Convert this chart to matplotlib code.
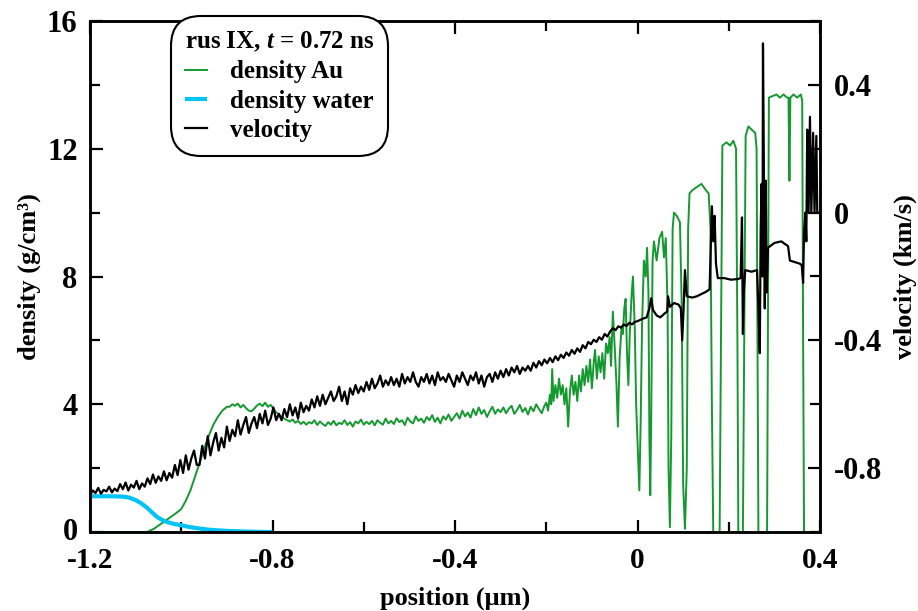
import numpy as np
import matplotlib
matplotlib.use("Agg")
import matplotlib.pyplot as plt
from matplotlib.ticker import MultipleLocator, FuncFormatter
import matplotlib.transforms as mtransforms

plt.rcParams['font.family'] = ['Liberation Serif', 'DejaVu Serif']
plt.rcParams['font.weight'] = 'bold'
plt.rcParams['axes.unicode_minus'] = False
plt.rcParams['mathtext.fontset'] = 'custom'
plt.rcParams['mathtext.it'] = 'Liberation Serif:italic:bold'
plt.rcParams['mathtext.rm'] = 'Liberation Serif:bold'

# ---------------- data ----------------
# velocity (km/s), uniform samples from x=-1.2 with step 0.006 (200 values)
vel_left_start = -1.2
vel_left_step = 0.006
velocity_left = [
    -0.885, -0.870, -0.878, -0.862, -0.880, -0.868, -0.873, -0.858, -0.876, -0.864,
    -0.872, -0.850, -0.866, -0.845, -0.870, -0.852, -0.861, -0.840, -0.866, -0.848,
    -0.858, -0.832, -0.850, -0.820, -0.846, -0.826, -0.840, -0.810, -0.838, -0.815,
    -0.830, -0.790, -0.822, -0.775, -0.815, -0.760, -0.805, -0.770, -0.745, -0.790,
    -0.790, -0.730, -0.770, -0.700, -0.760, -0.720, -0.690, -0.745, -0.705, -0.735,
    -0.670, -0.715, -0.680, -0.700, -0.650, -0.695, -0.665, -0.640, -0.690, -0.660,
    -0.640, -0.675, -0.630, -0.660, -0.620, -0.665, -0.645, -0.610, -0.650, -0.630,
    -0.650, -0.615, -0.640, -0.600, -0.635, -0.610, -0.645, -0.595, -0.625, -0.605,
    -0.620, -0.585, -0.610, -0.575, -0.605, -0.570, -0.600, -0.580, -0.560, -0.590,
    -0.575, -0.545, -0.590, -0.560, -0.600, -0.550, -0.570, -0.540, -0.565, -0.545,
    -0.560, -0.530, -0.555, -0.520, -0.550, -0.535, -0.510, -0.545, -0.525, -0.540,
    -0.515, -0.540, -0.520, -0.545, -0.505, -0.535, -0.515, -0.530, -0.500, -0.530,
    -0.545, -0.515, -0.530, -0.505, -0.535, -0.510, -0.540, -0.500, -0.525, -0.515,
    -0.530, -0.505, -0.525, -0.545, -0.510, -0.530, -0.500, -0.520, -0.540, -0.510,
    -0.525, -0.500, -0.535, -0.510, -0.545, -0.515, -0.505, -0.530, -0.500, -0.520,
    -0.495, -0.515, -0.490, -0.510, -0.485, -0.500, -0.480, -0.505, -0.485, -0.495,
    -0.480, -0.495, -0.470, -0.485, -0.465, -0.478, -0.460, -0.472, -0.455, -0.468,
    -0.450, -0.462, -0.445, -0.455, -0.438, -0.448, -0.430, -0.442, -0.425, -0.436,
    -0.415, -0.425, -0.405, -0.412, -0.398, -0.405, -0.390, -0.398, -0.380, -0.388,
    -0.372, -0.362, -0.368, -0.356, -0.360, -0.350, -0.355, -0.345, -0.350, -0.342,
]
# velocity, right part (explicit positions)
vel_right_pos = [
    0.000, 0.010, 0.020, 0.026, 0.030, 0.034, 0.042, 0.050, 0.060, 0.065,
    0.067, 0.071, 0.080, 0.090, 0.095, 0.098, 0.101, 0.104, 0.108, 0.120,
    0.130, 0.140, 0.150, 0.158, 0.163, 0.166, 0.169, 0.172, 0.176, 0.190,
    0.205, 0.220, 0.226, 0.229, 0.231, 0.233, 0.236, 0.250, 0.262, 0.265,
    0.268, 0.270, 0.272, 0.274, 0.275, 0.277, 0.279, 0.281, 0.283, 0.286,
    0.300, 0.315, 0.325, 0.330, 0.334, 0.345, 0.356, 0.360, 0.363, 0.365,
    0.368, 0.370, 0.372, 0.375, 0.378, 0.381, 0.385, 0.388, 0.392, 0.394,
    0.400,
]
vel_right = [
    -0.340, -0.333, -0.328, -0.300, -0.268, -0.305, -0.322, -0.328, -0.315, -0.310,
    -0.262, -0.295, -0.283, -0.288, -0.300, -0.400, -0.300, -0.180, -0.262, -0.266,
    -0.262, -0.255, -0.248, -0.240, 0.020, -0.090, -0.010, -0.160, -0.205, -0.205,
    -0.210, -0.208, -0.205, -0.015, -0.380, -0.250, -0.180, -0.185, -0.180, -0.300,
    -0.440, -0.050, 0.090, -0.200, 0.530, 0.140, -0.300, 0.100, -0.250, -0.110,
    -0.095, -0.090, -0.100, -0.105, -0.150, -0.155, -0.160, -0.165, -0.220, -0.060,
    0.000, -0.090, 0.260, 0.000, 0.300, 0.000, 0.250, 0.000, 0.240, 0.000,
    0.000,
]

# density Au (g/cm3): ramp (explicit positions)
au_ramp_pos = [-1.200, -1.075, -1.060, -1.045, -1.030, -1.015, -1.000, -0.990,
               -0.980, -0.970, -0.960, -0.950, -0.940, -0.930, -0.920, -0.910, -0.900]
au_ramp = [0.00, 0.00, 0.10, 0.25, 0.40, 0.55, 0.72, 0.98,
           1.30, 1.72, 2.15, 2.60, 3.00, 3.35, 3.60, 3.80, 3.92]
# density Au: uniform samples from x=-0.894, step 0.006 (116 values)
au_mid_start = -0.894
au_mid_step = 0.006
au_mid = [
    3.92, 4.00, 3.95, 4.02, 3.90, 3.98, 3.88, 3.80, 3.78, 3.86,
    3.96, 4.02, 3.94, 4.05, 3.92, 3.98, 3.86, 3.75, 3.68, 3.60,
    3.55, 3.50, 3.46, 3.52, 3.42, 3.48, 3.38, 3.45, 3.36, 3.44,
    3.40, 3.50, 3.35, 3.46, 3.38, 3.32, 3.44, 3.36, 3.48, 3.34,
    3.42, 3.38, 3.50, 3.35, 3.44, 3.30, 3.46, 3.40, 3.52, 3.36,
    3.45, 3.38, 3.48, 3.34, 3.50, 3.42, 3.36, 3.55, 3.40, 3.48,
    3.38, 3.56, 3.44, 3.50, 3.35, 3.58, 3.46, 3.40, 3.62, 3.48,
    3.55, 3.42, 3.60, 3.50, 3.66, 3.45, 3.58, 3.40, 3.62, 3.52,
    3.68, 3.48, 3.60, 3.72, 3.55, 3.80, 3.62, 3.74, 3.58, 3.85,
    3.66, 3.90, 3.70, 3.82, 3.60, 3.78, 3.92, 3.70, 3.84, 3.75,
    3.90, 3.72, 3.86, 3.95, 3.70, 3.82, 3.98, 3.76, 3.88, 3.68,
    3.92, 3.78, 4.00, 3.85, 3.72, 3.95,
]
# density Au: right part (explicit positions)
au_right_pos = [
    -0.200, -0.196, -0.192, -0.189, -0.187, -0.184, -0.180, -0.176, -0.172, -0.168,
    -0.164, -0.160, -0.156, -0.152, -0.148, -0.144, -0.140, -0.136, -0.132, -0.128,
    -0.124, -0.120, -0.116, -0.112, -0.108, -0.104, -0.100, -0.096, -0.093, -0.089,
    -0.085, -0.081, -0.077, -0.073, -0.069, -0.065, -0.061, -0.058, -0.054, -0.050,
    -0.046, -0.043, -0.039, -0.035, -0.032, -0.029, -0.026, -0.023, -0.020, -0.017,
    -0.013, -0.010, -0.006, -0.003, 0.001, 0.004, 0.007, 0.010, 0.014, 0.018,
    0.021, 0.024, 0.026, 0.028, 0.030, 0.033, 0.036, 0.042, 0.048, 0.054,
    0.058, 0.062, 0.066, 0.068, 0.071, 0.074, 0.077, 0.080, 0.086, 0.093,
    0.097, 0.100, 0.104, 0.108, 0.111, 0.114, 0.120, 0.130, 0.140, 0.150,
    0.156, 0.160, 0.163, 0.166, 0.180, 0.183, 0.186, 0.195, 0.203, 0.210,
    0.216, 0.219, 0.221, 0.231, 0.234, 0.237, 0.243, 0.250, 0.258, 0.261,
    0.263, 0.265, 0.284, 0.286, 0.288, 0.296, 0.305, 0.312, 0.320, 0.328,
    0.331, 0.333, 0.335, 0.342, 0.350, 0.358, 0.361, 0.363, 0.365, 0.400,
]
au_right = [
    4.05, 3.80, 4.30, 4.00, 5.10, 4.10, 4.60, 4.20, 4.80, 4.30,
    4.60, 4.00, 4.50, 3.30, 4.40, 4.90, 4.30, 4.70, 4.10, 4.90,
    4.40, 5.10, 4.60, 5.20, 4.70, 5.40, 4.50, 5.30, 5.70, 4.80,
    5.50, 5.00, 5.60, 4.80, 5.90, 5.60, 6.10, 5.20, 6.90, 5.80,
    4.60, 3.30, 5.50, 6.40, 6.20, 7.00, 7.30, 5.60, 4.60, 6.20,
    7.40, 8.00, 6.40, 4.00, 2.50, 1.30, 3.50, 6.50, 8.50, 8.00,
    8.90, 7.50, 3.00, 1.15, 3.50, 8.50, 9.10, 8.50, 9.20, 9.40,
    8.60, 9.20, 7.00, 2.00, 0.15, 3.00, 9.50, 10.00, 9.90, 9.70,
    7.00, 1.50, 0.10, 2.00, 9.50, 10.60, 10.70, 10.80, 10.90, 10.70,
    10.60, 9.50, 4.00, 0.00, 0.00, 6.00, 12.10, 12.20, 12.10, 12.25,
    12.00, 6.00, 0.00, 0.00, 6.00, 12.40, 12.70, 12.60, 12.50, 12.00,
    6.00, 0.00, 0.00, 7.00, 13.60, 13.65, 13.70, 13.60, 13.70, 13.60,
    13.60, 11.00, 13.60, 13.70, 13.60, 13.70, 13.50, 6.00, 0.00, 0.00,
]

# density water (g/cm3)
water_pos = [-1.200, -1.160, -1.130, -1.115, -1.100, -1.088, -1.075, -1.063, -1.053,
             -1.042, -1.031, -1.015, -1.000, -0.980, -0.965, -0.945, -0.930, -0.900,
             -0.860, -0.830, -0.800]
water = [1.12, 1.12, 1.11, 1.08, 1.00, 0.90, 0.76, 0.60, 0.47,
         0.38, 0.31, 0.25, 0.21, 0.15, 0.12, 0.08, 0.06, 0.035,
         0.015, 0.005, 0.0]

x_ticks = [-1.2, -0.8, -0.4, 0, 0.4]
dens_ticks = [0, 4, 8, 12, 16]
vel_ticks = [-0.8, -0.4, 0, 0.4]

# ---------------- build series ----------------
vel_left_pos = vel_left_start + vel_left_step * np.arange(len(velocity_left))
vel_x = np.concatenate([vel_left_pos, vel_right_pos])
vel_y = np.concatenate([velocity_left, vel_right])

au_mid_pos = au_mid_start + au_mid_step * np.arange(len(au_mid))
au_x = np.concatenate([au_ramp_pos, au_mid_pos, au_right_pos])
au_y = np.concatenate([au_ramp, au_mid, au_right])

# ---------------- plot ----------------
fig = plt.figure(figsize=(9.18, 6.11), dpi=100)
ax = fig.add_axes([90/918, 1-532/611, 730/918, 511/611])
ax2 = ax.twinx()

GREEN = '#14992f'
CYAN = '#00c4f5'

l1, = ax.plot(au_x, au_y, color=GREEN, lw=1.4, label='density Au')
l2, = ax.plot(water_pos, water, color=CYAN, lw=3.0, label='density water', solid_capstyle='butt')
l3, = ax2.plot(vel_x, vel_y, color='black', lw=1.6, label='velocity')

ax.set_xlim(-1.2, 0.4)
ax.set_ylim(0, 16)
ax2.set_ylim(-1.0, 0.6)

fmt = FuncFormatter(lambda v, p: f'{v:g}')
ax.set_xticks(x_ticks)
ax.xaxis.set_minor_locator(MultipleLocator(0.2))
ax.set_yticks(dens_ticks)
ax.yaxis.set_minor_locator(MultipleLocator(2))
ax2.set_yticks(vel_ticks)
ax2.yaxis.set_minor_locator(MultipleLocator(0.2))
ax.xaxis.set_major_formatter(fmt)
ax.yaxis.set_major_formatter(fmt)
ax2.yaxis.set_major_formatter(fmt)

ax.tick_params(axis='x', which='both', direction='in', top=True, width=1.6)
ax.tick_params(axis='y', which='both', direction='in', right=False, width=1.6)
ax2.tick_params(axis='y', which='both', direction='in', width=1.6)
ax.tick_params(which='major', length=9)
ax.tick_params(which='minor', length=7)
ax2.tick_params(which='major', length=9)
ax2.tick_params(which='minor', length=7)
ax.tick_params(axis='x', labelsize=21, pad=11)
ax.tick_params(axis='y', labelsize=22, pad=9)
ax2.tick_params(axis='y', labelsize=22, pad=10)
for lab in ax.get_xticklabels() + ax.get_yticklabels() + ax2.get_yticklabels():
    lab.set_fontweight('bold')

# nudge the bottom-left "0" density label slightly up so it clears "-1.2"
ylabs = ax.get_yticklabels()
ylabs[0].set_transform(ylabs[0].get_transform() +
                       mtransforms.ScaledTranslation(0, 3/100, fig.dpi_scale_trans))

for a in (ax, ax2):
    for s in a.spines.values():
        s.set_linewidth(1.8)

ax.set_xlabel('position (\u03bcm)', fontsize=19, fontweight='bold', labelpad=9)
ax.set_ylabel('density (g/cm\u00b3)', fontsize=19, fontweight='bold', labelpad=4)
ax2.set_ylabel('velocity (km/s)', fontsize=19, fontweight='bold', labelpad=8)

leg = ax2.legend(handles=[l1, l2, l3], title=r'rus IX, $t$ = 0.72 ns',
                 loc='upper left', bbox_to_anchor=(0.118, 1.0),
                 prop={'size': 18, 'weight': 'bold'},
                 title_fontproperties={'size': 18, 'weight': 'bold'},
                 alignment='left', handlelength=0.9, handletextpad=0.9,
                 labelspacing=0.25, borderpad=0.35, borderaxespad=0.0,
                 fancybox=True, framealpha=1.0, edgecolor='black')
leg.get_frame().set_linewidth(1.5)
leg.get_frame().set_boxstyle('round,pad=0.2,rounding_size=1.2')
leg.set_zorder(10)

fig.savefig('out.png', dpi=100)
